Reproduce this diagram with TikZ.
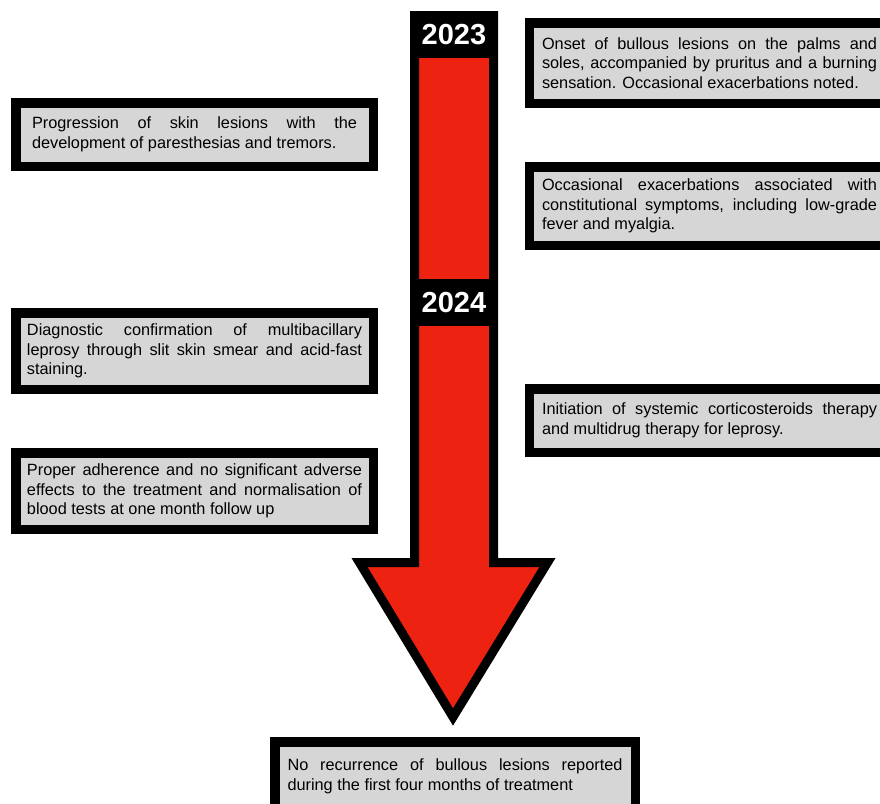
\documentclass[tikz,border=0pt]{standalone}
\usepackage{fontspec}
\setmainfont{Liberation Sans}
\usetikzlibrary{positioning}
\definecolor{boxgray}{RGB}{214,214,214}
\definecolor{arrowred}{RGB}{237,34,16}

\begin{document}
\begin{tikzpicture}[x=1pt,y=-1pt,
  evbox/.style={draw=black,line width=9.5pt,fill=boxgray,inner sep=0pt,
    align=justify,text width=335pt,font=\fontsize{16.3}{19.5}\selectfont},
  yearbox/.style={fill=black,text=white,inner sep=0pt,minimum width=88pt,
    minimum height=47pt,font=\fontsize{29}{30}\selectfont\bfseries}]
\useasboundingbox (0,0) rectangle (880,803);
\clip (0,0) rectangle (880,803);
\draw[line width=9pt,fill=arrowred,miter limit=12]
  (414.5,15.5) -- (493.5,15.5) -- (493.5,562.5) -- (547.5,562.5) -- (453,717)
  -- (359.5,562.5) -- (414.5,562.5) -- cycle;
\node[yearbox] (y2023) at (454,34.5) {2023};
\node[yearbox] (y2024) at (454,302.5) {2024};
\node[evbox,minimum width=360pt,minimum height=80.5pt] (onset) at (709.5,63)
  {Onset of bullous lesions on the palms and\linebreak soles, accompanied by pruritus and a burning\linebreak sensation. Occasional exacerbations noted.};
\node[evbox,minimum width=360pt,minimum height=78.5pt] (flare) at (709.5,206)
  {Occasional exacerbations associated with\linebreak constitutional symptoms, including low-grade\linebreak fever and myalgia.};
\node[evbox,minimum width=360pt,minimum height=63.5pt] (therapy) at (709.5,420.5)
  {Initiation of systemic corticosteroids therapy\linebreak and multidrug therapy for leprosy.};
\node[evbox,text width=325pt,minimum width=357.5pt,minimum height=63.5pt] (progress) at (194.5,134.5)
  {Progression of skin lesions with the\linebreak development of paresthesias and tremors.};
\node[evbox,minimum width=357.5pt,minimum height=76.5pt] (diagnosis) at (194.5,351)
  {Diagnostic confirmation of multibacillary\linebreak leprosy through slit skin smear and acid-fast\linebreak staining.};
\node[evbox,minimum width=357.5pt,minimum height=76.5pt] (adherence) at (194.5,491)
  {Proper adherence and no significant adverse\linebreak effects to the treatment and normalisation of\linebreak blood tests at one month follow up};
\node[evbox,minimum width=360.5pt,minimum height=70pt,text depth=24pt] (outcome) at (455,777)
  {No recurrence of bullous lesions reported\linebreak during the first four months of treatment};
\end{tikzpicture}
\end{document}
